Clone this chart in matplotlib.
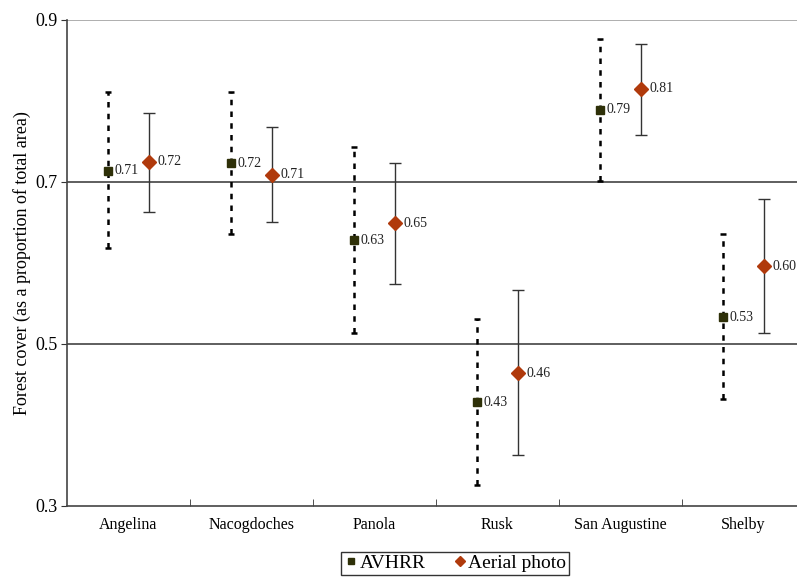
import matplotlib.pyplot as plt
from matplotlib.lines import Line2D
import numpy as np

plt.rcParams['font.family'] = ['Liberation Serif', 'DejaVu Serif']

counties = ["Angelina", "Nacogdoches", "Panola", "Rusk", "San Augustine", "Shelby"]

avhrr = [0.71, 0.72, 0.63, 0.43, 0.79, 0.53]
avhrr_hi = [0.811, 0.811, 0.743, 0.531, 0.877, 0.636]
avhrr_lo = [0.619, 0.636, 0.514, 0.326, 0.701, 0.432]

aerial = [0.72, 0.71, 0.65, 0.46, 0.81, 0.60]
aerial_hi = [0.785, 0.768, 0.723, 0.567, 0.870, 0.679]
aerial_lo = [0.663, 0.651, 0.574, 0.363, 0.758, 0.514]

# plotted marker positions are slightly off the rounded labels
avhrr_pos = [0.714, 0.723, 0.628, 0.428, 0.789, 0.533]
aerial_pos = [0.725, 0.709, 0.649, 0.464, 0.815, 0.596]

c_avhrr = "#2e3008"
c_aerial = "#b03a0c"

fig = plt.figure(figsize=(7.97, 5.78), dpi=100)
ax = fig.add_axes([0.084, 0.1246, 0.926, 0.8408])

x = np.arange(len(counties))
off = 0.167

err_a = [np.array(avhrr_pos) - np.array(avhrr_lo), np.array(avhrr_hi) - np.array(avhrr_pos)]
eb = ax.errorbar(x - off, avhrr_pos, yerr=err_a, fmt="s", color=c_avhrr, ms=5.5,
                 ecolor="black", elinewidth=1.8, capsize=2, capthick=1.8, zorder=3)
eb[2][0].set_linestyle((0, (2.2, 2.5)))

err_b = [np.array(aerial_pos) - np.array(aerial_lo), np.array(aerial_hi) - np.array(aerial_pos)]
ax.errorbar(x + off, aerial_pos, yerr=err_b, fmt="D", color=c_aerial, ms=7,
            ecolor="#333333", elinewidth=1, capsize=4, capthick=1, zorder=3)

for i in range(len(counties)):
    ax.annotate(f"{avhrr[i]:.2f}", (x[i] - off, avhrr_pos[i]), xytext=(5, 0),
                textcoords="offset points", va="center", fontsize=10, color="#222222")
    ax.annotate(f"{aerial[i]:.2f}", (x[i] + off, aerial_pos[i]), xytext=(6, 0),
                textcoords="offset points", va="center", fontsize=10, color="#222222")

ax.set_xlim(-0.5, len(counties) - 0.5)
ax.set_ylim(0.3, 0.9)
ax.set_yticks([0.3, 0.5, 0.7, 0.9])
ax.set_yticklabels(["0.3", "0.5", "0.7", "0.9"], fontsize=13)
ax.set_xticks(x)
ax.set_xticklabels(counties, fontsize=11.5)
ax.set_xticks(np.arange(0.5, len(counties) - 0.5), minor=True)
ax.tick_params(axis="x", which="major", length=0, pad=8)
ax.tick_params(axis="x", which="minor", direction="in", length=5, color="#333333")
ax.tick_params(axis="y", length=4, color="#333333", pad=3)

for yv in [0.5, 0.7]:
    ax.axhline(yv, color="#333333", lw=1.1, zorder=1)
ax.axhline(0.9, color="#999999", lw=1.1, zorder=1)

for s in ["top", "right"]:
    ax.spines[s].set_visible(False)
ax.spines["left"].set_color("#444444")
ax.spines["bottom"].set_color("#444444")
ax.spines["left"].set_linewidth(1.2)
ax.spines["bottom"].set_linewidth(1.2)

ax.set_ylabel("Forest cover (as a proportion of total area)", fontsize=13, labelpad=3)

handles = [
    Line2D([], [], marker="s", color=c_avhrr, ls="none", ms=4),
    Line2D([], [], marker="D", color=c_aerial, ls="none", ms=5),
]
leg = fig.legend(handles, ["AVHRR", "Aerial photo"], loc="lower center",
                 bbox_to_anchor=(0.571, -0.012), ncol=2, frameon=True,
                 fontsize=14, handletextpad=0.1, columnspacing=1.4, borderpad=0.15,
                 handlelength=0.7, fancybox=False, edgecolor="black")
leg.get_frame().set_linewidth(1)

fig.savefig("out.png", dpi=100)
